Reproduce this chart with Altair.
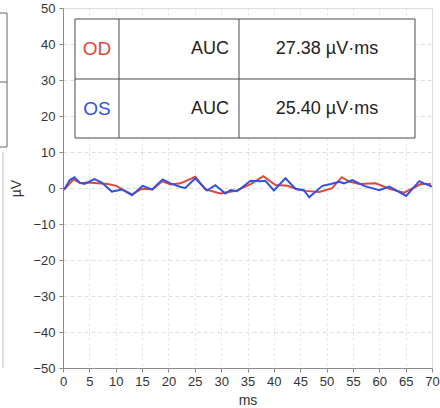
import altair as alt
import pandas as pd

# OD (red) trace
od_ms = [0.2, 2.0, 3.3, 4.7, 6.6, 8.5, 10.1, 11.4, 13.1, 15.0, 17.0, 18.8, 20.4, 22.3, 25.1, 27.0,
         29.9, 33.0, 35.6, 38.0, 40.3, 42.6, 44.5, 46.0, 48.6, 51.0, 52.9, 54.3, 56.2, 59.3,
         61.9, 64.7, 66.3, 67.9, 69.8]
od_uv = [-0.5, 2.4, 1.3, 1.5, 1.3, 1.1, 0.6, -0.5, -1.8, -0.2, -0.4, 1.9, 1.0, 1.3, 3.1, -0.4,
         -1.5, -0.7, 1.1, 3.3, 0.8, 0.6, -0.4, -0.8, -1.1, -0.1, 3.0, 1.8, 1.1, 1.3,
         -0.2, -1.3, -0.1, 1.1, 1.1]

# OS (blue) trace
os_ms = [0.2, 1.3, 2.15, 3.2, 4.05, 5.96, 7.35, 9.26, 11.2, 13.1, 15.1, 16.9, 18.9, 20.4, 22.3,
         23.2, 25.1, 27.3, 28.9, 30.8, 31.8, 33.0, 35.6, 37.5, 38.4, 40.0, 42.2, 44.1, 45.7,
         46.7, 49.2, 50.8, 52.4, 53.3, 54.9, 57.1, 60.0, 61.9, 65.1, 67.6, 68.5, 70.0]
os_uv = [-0.4, 2.2, 3.0, 1.5, 1.1, 2.5, 1.5, -1.0, -0.4, -2.0, 0.6, -0.4, 2.4, 1.3, 0.3,
         0.0, 2.7, -0.7, 0.8, -1.5, -0.6, -0.9, 2.0, 1.9, 2.0, -0.7, 2.7, -0.2, -0.6,
         -2.6, 0.6, 1.1, 1.7, 1.3, 2.2, 0.6, -0.6, 0.4, -2.2, 1.9, 1.3, 0.4]

eyes = ["OD", "OS"]
eye_colors = ["#e0473c", "#3452e0"]
auc_label = ["AUC", "AUC"]
auc_values = ["27.38 µV·ms", "25.40 µV·ms"]

x_ticks = list(range(0, 71, 5))
y_ticks = list(range(-50, 51, 10))

df = pd.concat([
    pd.DataFrame({"ms": od_ms, "uv": od_uv, "eye": "OD"}),
    pd.DataFrame({"ms": os_ms, "uv": os_uv, "eye": "OS"}),
])

FONT = "Liberation Sans"

lines = alt.Chart(df).mark_line(strokeWidth=2, interpolate="linear").encode(
    x=alt.X("ms:Q", scale=alt.Scale(domain=[0, 70], nice=False),
            axis=alt.Axis(values=x_ticks, title="ms", grid=True, gridDash=[2, 3],
                          gridColor="#dedede", domainColor="#8a8a8a", tickColor="#8a8a8a",
                          tickSize=4, labelFontSize=13, labelColor="#333", labelPadding=3,
                          labelFont=FONT, titleFont=FONT, titleFontSize=14,
                          titleFontWeight="normal", titleColor="#333", titlePadding=5,
                          labelFlush=False)),
    y=alt.Y("uv:Q", scale=alt.Scale(domain=[-50, 50], nice=False),
            axis=alt.Axis(values=y_ticks, title="µV", grid=True, gridDash=[4, 3],
                          gridColor="#dedede", domainColor="#8a8a8a", tickColor="#8a8a8a",
                          tickSize=4, labelFontSize=13, labelColor="#333", labelPadding=4,
                          labelFont=FONT, titleFont=FONT, titleFontSize=14,
                          titleFontWeight="normal", titleColor="#333", titlePadding=9)),
    color=alt.Color("eye:N", scale=alt.Scale(domain=eyes, range=eye_colors), legend=None),
    detail="eye:N",
)

# results table
tbl_stroke = "#4a4a4a"
table_box = alt.Chart().mark_rect(fill="white", stroke=tbl_stroke, strokeWidth=1).encode(
    x=alt.value(12), x2=alt.value(352), y=alt.value(11), y2=alt.value(130))
row_div = alt.Chart().mark_rule(color=tbl_stroke, strokeWidth=1).encode(
    x=alt.value(12), x2=alt.value(352), y=alt.value(71))
col_div1 = alt.Chart().mark_rule(color=tbl_stroke, strokeWidth=1).encode(
    x=alt.value(56), y=alt.value(11), y2=alt.value(130))
col_div2 = alt.Chart().mark_rule(color=tbl_stroke, strokeWidth=1).encode(
    x=alt.value(176), y=alt.value(11), y2=alt.value(130))

tdf = pd.DataFrame({"eye": eyes, "auc": auc_label, "val": auc_values, "row": [0, 1]})
row_scale = alt.Scale(domain=[0, 1], range=[41, 101])

eye_text = alt.Chart(tdf).mark_text(fontSize=19, font=FONT, align="center", baseline="middle").encode(
    x=alt.value(34), y=alt.Y("row:Q", scale=row_scale, axis=None),
    text="eye:N",
    color=alt.Color("eye:N", scale=alt.Scale(domain=eyes, range=eye_colors), legend=None))
auc_text = alt.Chart(tdf).mark_text(fontSize=18, font=FONT, align="right", baseline="middle",
                                    color="#222").encode(
    x=alt.value(166), y=alt.Y("row:Q", scale=row_scale, axis=None), text="auc:N")
val_text = alt.Chart(tdf).mark_text(fontSize=18, font=FONT, align="center", baseline="middle",
                                    color="#222").encode(
    x=alt.value(264), y=alt.Y("row:Q", scale=row_scale, axis=None), text="val:N")
texts = alt.layer(eye_text, auc_text, val_text)

# fragment of the neighbouring panel at the far left
frag = [
    alt.Chart().mark_rule(color="#666", strokeWidth=1).encode(
        x=alt.value(-56), y=alt.value(5), y2=alt.value(139)),
    alt.Chart().mark_rule(color="#666", strokeWidth=1).encode(
        x=alt.value(-63), x2=alt.value(-56), y=alt.value(5)),
    alt.Chart().mark_rule(color="#666", strokeWidth=1).encode(
        x=alt.value(-63), x2=alt.value(-56), y=alt.value(74)),
    alt.Chart().mark_rule(color="#666", strokeWidth=1).encode(
        x=alt.value(-63), x2=alt.value(-56), y=alt.value(139)),
    alt.Chart().mark_rule(color="#bbb", strokeWidth=1).encode(
        x=alt.value(-60), y=alt.value(144), y2=alt.value(360)),
]

chart = alt.layer(lines, table_box, row_div, col_div1, col_div2, texts,
                  *frag).resolve_scale(y="independent").properties(
    width=369, height=360,
    autosize=alt.AutoSizeParams(type="none"),
    padding={"left": 63, "top": 8, "right": 8, "bottom": 40},
).configure_view(stroke="#cccccc", strokeWidth=1).configure(background="white")

chart.save("out.html", embed_options={"renderer": "svg", "actions": False})
